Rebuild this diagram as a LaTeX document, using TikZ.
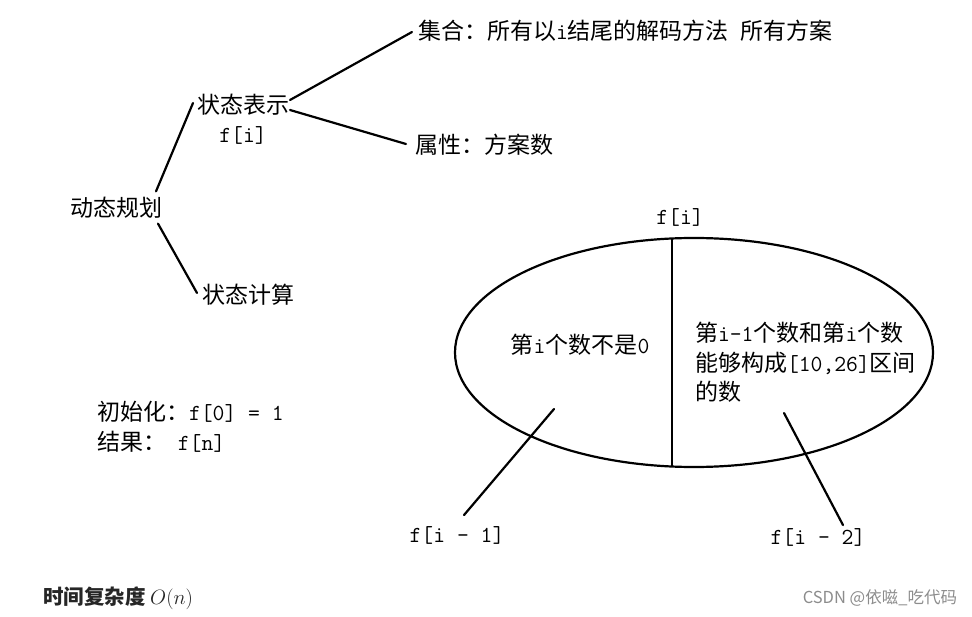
\documentclass[tikz,border=0pt]{standalone}
\usepackage{fontspec}
\setmainfont{Noto Sans CJK SC}
\usetikzlibrary{shapes.geometric,calc}
\begin{document}
\begin{tikzpicture}[x=1pt,y=-1pt,
  font=\fontsize{23}{29.5}\selectfont,
  every node/.style={inner sep=0pt, outer sep=0pt},
  ln/.style={line width=2.2pt, line cap=round},
  lt/.style={anchor=west}]
\useasboundingbox (0,0) rectangle (972,617);
% tree
\node (dp) at (116,208) {动态规划};
\node (rep) at (243,105) {状态表示};
\node (repf) at (243,135) {\ttfamily f[i]};
\node (calc) at (248,295) {状态计算};
\node[lt] (set) at (418,31) {集合：所有以{\ttfamily i}结尾的解码方法\hspace{0.5em}所有方案};
\node[lt] (attr) at (415,145) {属性：方案数};
\draw[ln] ($(dp.north east)+(-6,-6)$) -- ($(rep.west)+(-4,-2)$);
\draw[ln] ($(dp.south east)+(-4,5)$) -- ($(calc.west)+(-5,-2)$);
\draw[ln] ($(rep.east)+(1,-5)$) -- ($(set.west)+(-6,1)$);
\draw[ln] ($(rep.east)+(1,5)$) -- ($(attr.west)+(-9,-1)$);
% ellipse
\node[draw, ellipse, line width=2.2pt, minimum width=478pt, minimum height=229pt] (ell) at (694,352.5) {};
\draw[line width=2.2pt] ([xshift=-22pt]ell.north) -- ([xshift=-22pt]ell.south);
\node (fi) at (680,217) {\ttfamily f[i]};
\node (left) at (580,345) {第{\ttfamily i}个数不是{\ttfamily 0}};
\node[lt, align=left] (right) at (695,362.5) {第{\ttfamily i-1}个数和第{\ttfamily i}个数\\能够构成{\ttfamily [10,26]}区间\\的数};
\node (fim1) at (457,535) {\ttfamily f[i - 1]};
\node (fim2) at (818,537) {\ttfamily f[i - 2]};
\coordinate (a1) at (554,409);
\coordinate (a2) at (784,413);
\draw[ln] (a1) -- ($(fim1.north)+(7,-11)$);
\draw[ln] (a2) -- ($(fim2.north)+(25,-3)$);
% notes
\node[lt] (init) at (97,412) {初始化：{\ttfamily f[0] = 1}};
\node[lt] (res) at (97,442) {结果：{\ttfamily\ f[n]}};
\node[lt, text=black!85] (tc) at (43,598) {\fontsize{20.5}{24}\selectfont\bfseries 时间复杂度 $O(n)$};
\node[anchor=east, text=black!45] (wm) at (957,598) {\fontsize{16.5}{20}\selectfont CSDN @依嗞\_吃代码};
\end{tikzpicture}
\end{document}
